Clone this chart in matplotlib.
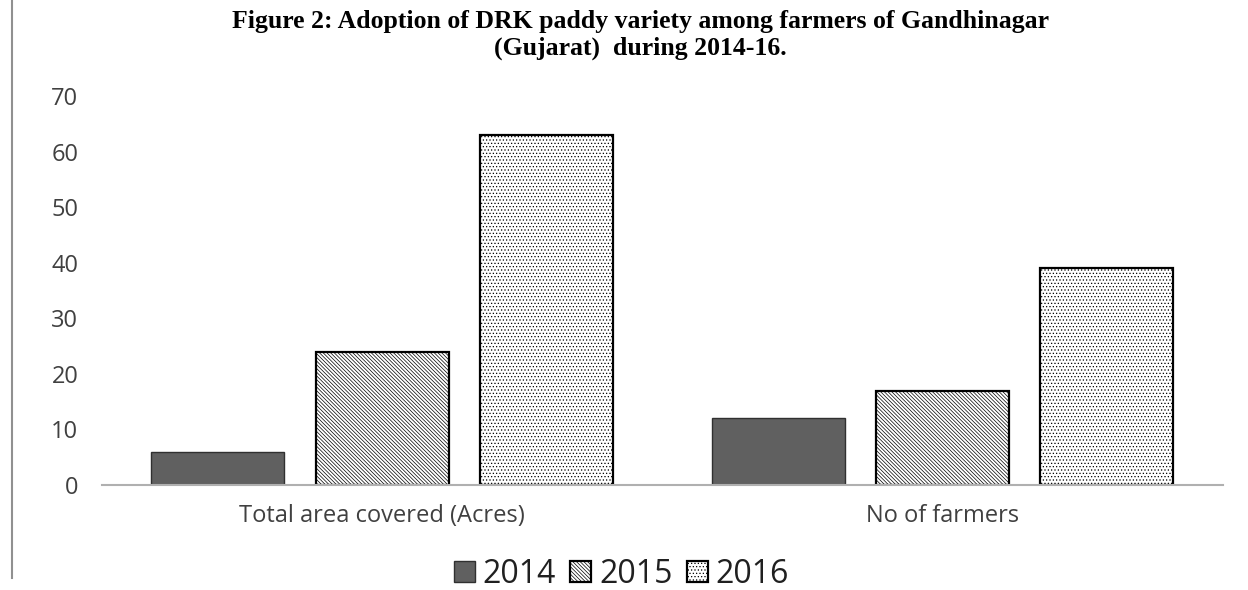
import numpy as np
import matplotlib.pyplot as plt
from matplotlib.lines import Line2D

# adoption figures per year
categories = ['Total area covered (Acres)', 'No of farmers']
years = ['2014', '2015', '2016']
vals_2014 = [6, 12]
vals_2015 = [24, 17]
vals_2016 = [63, 39]
y_ticks = [0, 10, 20, 30, 40, 50, 60, 70]

plt.rcParams['hatch.linewidth'] = 0.5

fig = plt.figure(figsize=(12.48, 5.9), dpi=100)
ax = fig.add_axes([0.0817, 0.178, 0.898, 0.659])

x = np.arange(len(categories))
width = 0.2375
step = 0.293

ax.bar(x - step, vals_2014, width, color='#606060', edgecolor='#303030', linewidth=1.0, label=years[0])
ax.bar(x, vals_2015, width, color='white', edgecolor='black', hatch='\\' * 9, linewidth=1.6, label=years[1])
ax.bar(x + step, vals_2016, width, color='white', edgecolor='black', hatch='.' * 5, linewidth=1.6, label=years[2])

ax.set_xlim(-0.5, 1.5)
ax.set_ylim(0, 70)
ax.set_yticks(y_ticks)
ax.set_xticks(x)
ax.set_xticklabels(categories)
ax.tick_params(axis='both', length=0, labelsize=17, labelcolor='#404040')
for lab in ax.get_yticklabels() + ax.get_xticklabels():
    lab.set_family('Open Sans')
ax.tick_params(axis='y', pad=17)
ax.tick_params(axis='x', pad=14)

for s in ['top', 'right', 'left']:
    ax.spines[s].set_visible(False)
ax.spines['bottom'].set_color('#b0b0b0')
ax.spines['bottom'].set_linewidth(1.5)

fig.text(0.513, 0.963, 'Figure 2: Adoption of DRK paddy variety among farmers of Gandhinagar',
         ha='center', va='center', family='Liberation Serif', weight='bold', fontsize=18.5)
fig.text(0.513, 0.918, '(Gujarat)  during 2014-16.',
         ha='center', va='center', family='Liberation Serif', weight='bold', fontsize=18.5)

# thin frame line on the left edge
fig.add_artist(Line2D([0.0096, 0.0096], [0.02, 1.0], transform=fig.transFigure, color='#909090', linewidth=1.5))

leg = fig.legend(loc='center', bbox_to_anchor=(0.498, 0.027), ncol=3, frameon=False,
                 prop={'family': 'Open Sans', 'size': 23}, handlelength=0.65, handleheight=0.65,
                 handletextpad=0.25, columnspacing=0.45)
for t in leg.get_texts():
    t.set_color('#202020')

fig.savefig('out.png', dpi=100)
